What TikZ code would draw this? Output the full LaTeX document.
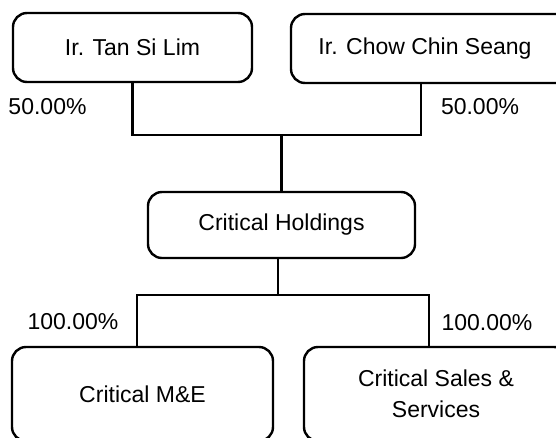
\documentclass[tikz,border=0pt]{standalone}
\usepackage{fontspec}
\setmainfont{Liberation Sans}
\usetikzlibrary{calc}

\begin{document}
\begin{tikzpicture}[x=1pt,y=-1pt,
		entity/.style={draw,line width=2.4pt,rounded corners=14pt,inner sep=0pt,align=center,font=\fontsize{23}{31}\selectfont},
		link/.style={line width=2.8pt},
		share/.style={inner sep=0pt,font=\fontsize{23}{28}\selectfont}]
			%%%%% START %%%%%
			
			\clip (0,0) rectangle (556,437);
			
			% owners
			\node[entity,minimum width=239pt,minimum height=69pt] (tan) at (132.5,47.5) {Ir. Tan Si Lim};
			\node[entity,minimum width=300pt,minimum height=69pt] (chow) at (441,48.5) {Ir. Chow Chin Seang\hspace*{32pt}};
			
			% holding
			\node[entity,minimum width=267pt,minimum height=66pt] (holding) at (281.5,225) {Critical Holdings};
			
			% subsidiaries
			\node[entity,minimum width=261pt,minimum height=94pt] (mne) at (142.5,394) {Critical M\&E};
			\node[entity,minimum width=264pt,minimum height=94pt] (sales) at (436,394) {Critical Sales \&\\Services};
			
			\coordinate (topbar) at (281.5,135);
			\draw[link] (tan.south) |- (topbar) -| ([xshift=-20pt]chow.south);
			\draw[link] (topbar) -- (holding.north);
			
			\coordinate (lowbar) at (278,295);
			\draw[link] ([xshift=-3.5pt]holding.south) -- (lowbar);
			\draw[link] ([xshift=-5.5pt]mne.north) |- (lowbar) -| ([xshift=-7pt]sales.north);
			
			\node[share] (tanshare) at (47.5,107) {50.00\%};
			\node[share] (chowshare) at (480,107) {50.00\%};
			\node[share] (mneshare) at (73,322) {100.00\%};
			\node[share] (salesshare) at (487,323) {100.00\%};
			
			%%%%% END %%%%%
\end{tikzpicture}
\end{document}
